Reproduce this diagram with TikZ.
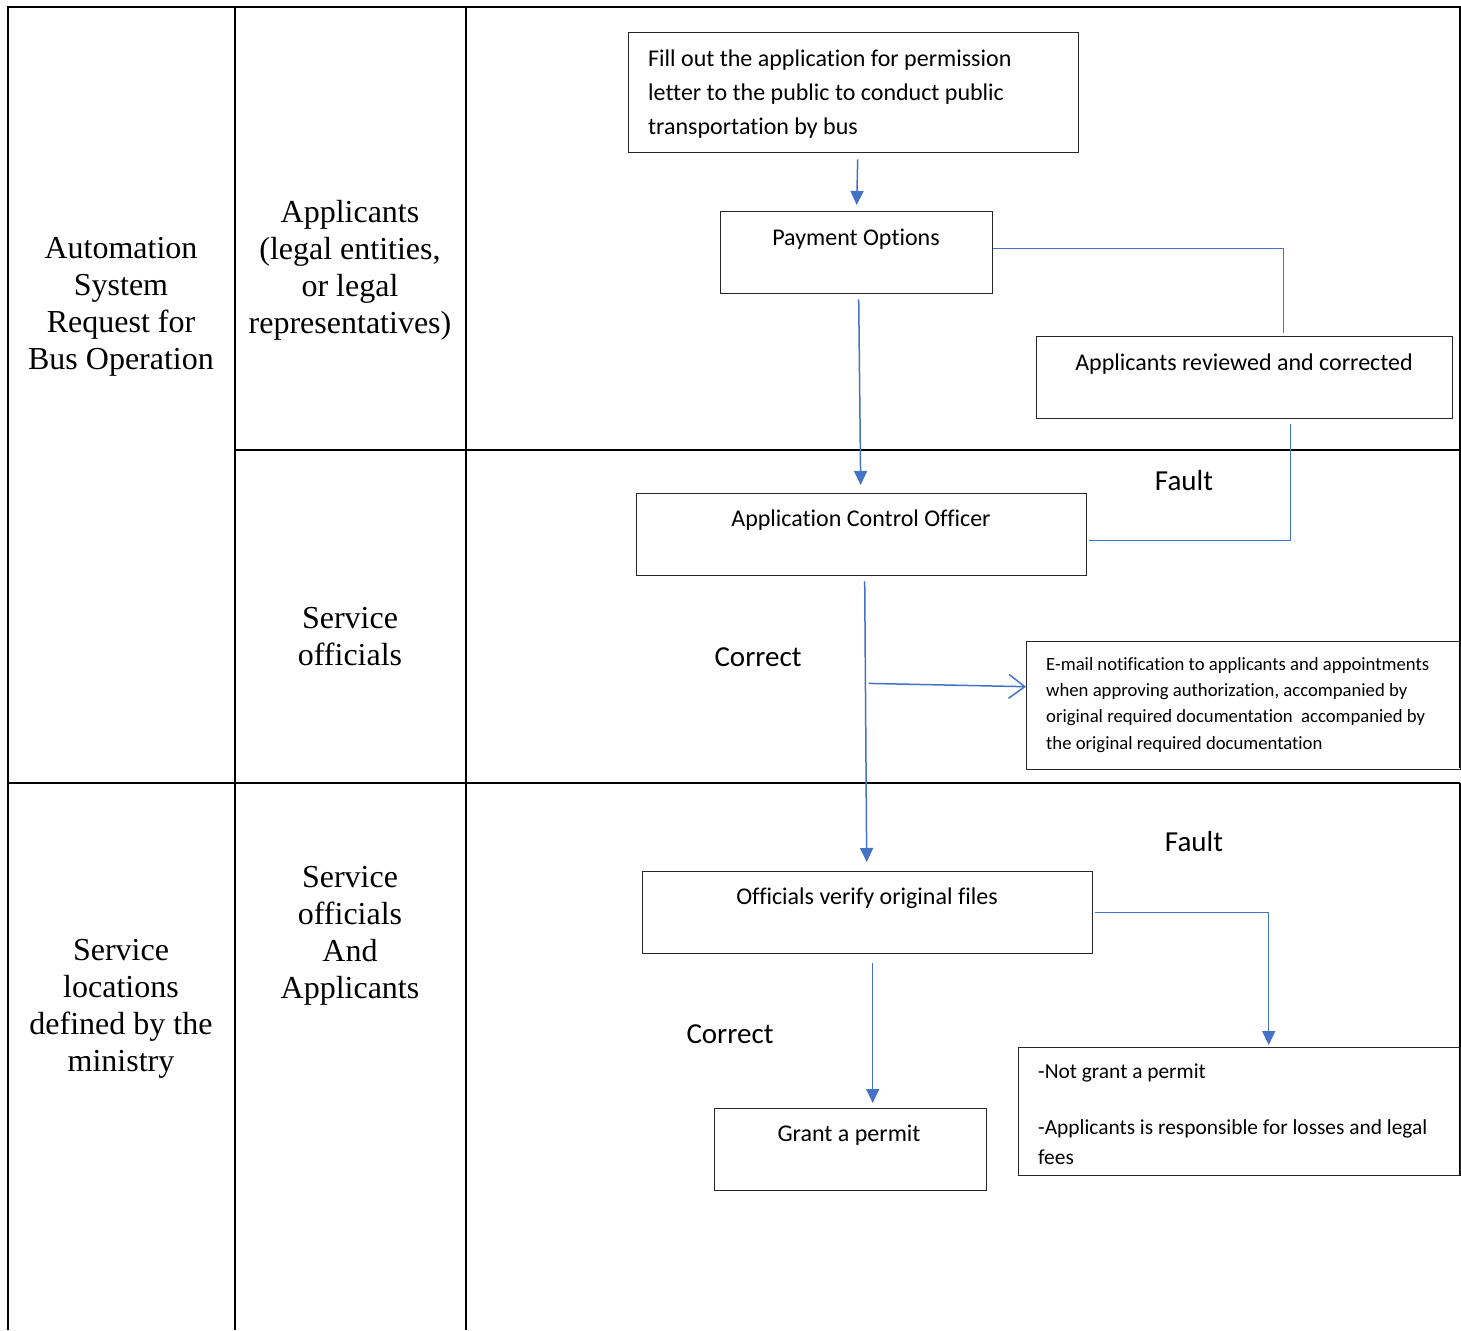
\documentclass[tikz,border=0pt]{standalone}
\usepackage{fontspec}
\setmainfont{Liberation Serif}
\newfontfamily\calfont[Ligatures=NoCommon]{Carlito}
\usetikzlibrary{arrows.meta,calc}
\definecolor{flowc}{HTML}{4472C4}
\begin{document}
\begin{tikzpicture}[x=1pt,y=-1pt,
  lane/.style={line width=2.2pt, black},
  box/.style={draw=black!85, line width=1.4pt, anchor=north west, inner sep=0pt},
  txt/.style={font=\calfont\fontsize{24}{34}\selectfont, inner sep=0pt},
  smalltxt/.style={font=\calfont\fontsize{18.7}{26.4}\selectfont, inner sep=0pt, align=left},
  midtxt/.style={font=\calfont\fontsize{21.4}{30}\selectfont, inner sep=0pt, align=left},
  cond/.style={font=\calfont\fontsize{29}{34}\selectfont, inner sep=0pt},
  lbl/.style={font=\fontsize{32}{37}\selectfont, align=center, inner sep=0pt},
  flow/.style={draw=flowc, line width=1.5pt},
  tip/.style={-{Triangle[length=14pt,width=13pt]}},
  opentip/.style={-{Straight Barb[length=16pt,width=24pt,line width=1.5pt]}}]

\useasboundingbox (0,0) rectangle (1461,1330);

% swimlane grid
\draw[lane] (8,1330) -- (8,7) -- (1460,7) -- (1460,768);
\draw[lane] (1460,783) -- (1460,1175);
\draw[lane] (235,7) -- (235,1330);
\draw[lane] (466,7) -- (466,1330);
\draw[lane] (235,450) -- (1460,450);
\draw[lane] (8,783) -- (1460,783);

% lane labels
\node[lbl] (l1) at (121,307) {Automation\\System\\Request for\\Bus Operation};
\node[lbl] (l2) at (350,270) {Applicants\\(legal entities,\\or legal\\representatives)};
\node[lbl] (l3) at (350,637) {Service\\officials};
\node[lbl] (l4) at (350,936) {Service\\officials\\And\\Applicants};
\node[lbl] (l5) at (121,1009) {Service\\locations\\defined by the\\ministry};

% boxes
\node[box, minimum width=450pt, minimum height=120pt] (fill) at (628,32) {};
\node[box, minimum width=272pt, minimum height=82pt] (pay) at (720,211) {};
\node[box, minimum width=416pt, minimum height=82pt] (rev) at (1036,336) {};
\node[box, minimum width=450pt, minimum height=82pt] (aco) at (636,493) {};
\node[box, minimum width=434pt, minimum height=128pt] (mail) at (1026,641) {};
\node[box, minimum width=450pt, minimum height=82pt] (ovf) at (642,871) {};
\node[box, minimum width=272pt, minimum height=82pt] (grant) at (714,1108) {};
\node[box, minimum width=442pt, minimum height=128pt] (ng) at (1018,1047) {};

% box texts
\node[txt, align=left, anchor=north west] (filltxt) at (648,50)
  {Fill out the application for permission\\letter to the public to conduct public\\transportation by bus};
\node[txt, anchor=base] (paytxt) at (856,245) {Payment Options};
\node[txt, anchor=base] (revtxt) at (1244,370) {Applicants reviewed and corrected};
\node[txt, anchor=base] (acotxt) at (861,526) {Application Control Officer};
\node[smalltxt, anchor=north west] (mailtxt) at (1046,657)
  {E-mail notification to applicants and appointments\\when approving authorization, accompanied by\\original required documentation\ \ accompanied by\\the original required documentation};
\node[txt, anchor=base] (ovftxt) at (867,904) {Officials verify original files};
\node[txt, anchor=base] (granttxt) at (849,1141) {Grant a permit};
\node[midtxt, anchor=north west] (ngtxt) at (1038,1064)
  {-Not grant a permit\\[26pt]-Applicants is responsible for losses and legal\\fees};

% condition labels
\node[cond, anchor=base] (fault1) at (1184,490) {Fault};
\node[cond, anchor=base] (corr1) at (758,666) {Correct};
\node[cond, anchor=base] (fault2) at (1194,851) {Fault};
\node[cond, anchor=base] (corr2) at (730,1043) {Correct};

% connectors
\draw[flow,tip] ([shift={(4,6)}]fill.south) -- ([shift={(0,-6)}]pay.north);
\draw[flow,tip] ([shift={(2,5)}]pay.south) -- ([shift={(-1,-8)}]aco.north);
\draw[flow] ([shift={(0,-4)}]pay.east) -| ([shift={(39,-3)}]rev.north);
\draw[flow] ([shift={(46,5)}]rev.south) |- ([shift={(2,6)}]aco.east);
\draw[flow,tip] ([shift={(3,5)}]aco.south) -- ([shift={(-1,-9)}]ovf.north);
\coordinate (fstart) at ($(aco.south)+(7,107)$);
\draw[flow,opentip] (fstart) -- ([shift={(0,-19)}]mail.west);
\draw[flow,tip] ([shift={(2,0)}]ovf.east) -| ([shift={(29,-2)}]ng.north);
\draw[flow,tip] ([shift={(5,9)}]ovf.south) -- ([shift={(22,-5)}]grant.north);
\end{tikzpicture}
\end{document}
